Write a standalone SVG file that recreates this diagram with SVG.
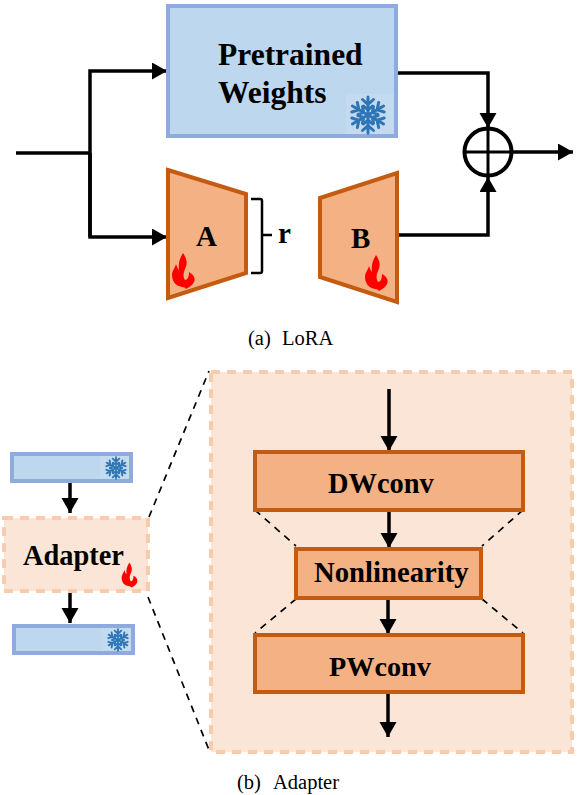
<svg xmlns="http://www.w3.org/2000/svg" width="577" height="795" viewBox="0 0 577 795">
<style>
text{font-family:"Liberation Serif","Times New Roman",serif;fill:#000}
.b{font-weight:bold}
.blue{fill:#bdd7ee;stroke:#8faadc;stroke-width:4}
.halo{fill:#c4daef}
.or{fill:#f4b183;stroke:#c55a11;stroke-width:4}
.pale{fill:#fbe5d6;stroke:#f8cbad;stroke-width:4;stroke-dasharray:9 7}
.ln{fill:none;stroke:#000;stroke-width:3.5}
.ds{fill:none;stroke:#000;stroke-width:1.7;stroke-dasharray:7 6}
.cap{font-size:20.5px}
.fl{fill:#f00}
</style>
<defs>
<marker id="ah" markerUnits="userSpaceOnUse" markerWidth="16" markerHeight="18" refX="15" refY="8.500" orient="auto"><path d="M0 0L15 8.500L0 17Z" fill="#000"/></marker>
<g id="snow" fill="none" stroke="#2e75b6" stroke-linecap="round">
<g id="arm"><path d="M0 0V-18M-5.500-15.500L0-10.500L5.500-15.500M-4.500-9L0-5L4.500-9" stroke-width="3"/></g>
<use href="#arm" transform="rotate(60)"/><use href="#arm" transform="rotate(120)"/><use href="#arm" transform="rotate(180)"/><use href="#arm" transform="rotate(240)"/><use href="#arm" transform="rotate(300)"/>
</g>
<path id="fire" class="fl" d="M-1-18C4-11 3-6 1-2C-1 2-1 6 1 9C4 9 5 5 5 1C9 3 12 7 10 11C8 15 5 16 2 18C0 15-3 17-5 15C-9 14-12 9-12 4C-12 0-9-3-8-7C-7-4-6-2-5-1C-6-8-4-13-1-18Z"/>
</defs>
<g id="connectors">
<path class="ln" d="M16 153H90"/>
<path class="ln" d="M90 237V71H167" marker-end="url(#ah)"/>
<path class="ln" d="M90 153V237H167" marker-end="url(#ah)"/>
<path class="ln" d="M397 73H488V128" marker-end="url(#ah)"/>
<path class="ln" d="M397 235H488V177" marker-end="url(#ah)"/>
<path class="ln" d="M512 152H573" marker-end="url(#ah)"/>
<path d="M251 199H260Q262 199 262 201V271Q262 273 260 273H251M262 235H272" fill="none" stroke="#000" stroke-width="2.500"/>
<path class="ln" d="M70 481V513" marker-end="url(#ah)"/>
<path class="ln" d="M70 590V623" marker-end="url(#ah)"/>
<path class="ds" d="M149 517L209 371"/>
<path class="ds" d="M148 597L209 750"/>
</g>
<g id="n-weights">
<rect class="blue" x="168" y="6" width="228" height="130"/>
<rect class="halo" x="346" y="94" width="48" height="40"/>
<use href="#snow" transform="translate(368 115)"/>
<text class="b" x="218" y="65" font-size="31.500">Pretrained</text>
<text class="b" x="218" y="103" font-size="31.500">Weights</text>
</g>
<g id="n-a">
<path class="or" d="M168 170L246 194V273L168 298Z"/>
<use href="#fire" transform="translate(184 271)"/>
<text class="b" x="196" y="246" font-size="29">A</text>
</g>
<text id="t-r" class="b" x="278" y="243" font-size="29">r</text>
<g id="n-b">
<path class="or" d="M320 198L397 173V302L320 277Z"/>
<use href="#fire" transform="translate(377 273)"/>
<text class="b" x="351" y="248" font-size="29">B</text>
</g>
<g id="n-plus">
<circle cx="488" cy="152" r="23.500" fill="none" stroke="#000" stroke-width="4"/>
<path d="M488 128V176M464 152H512" stroke="#000" stroke-width="3"/>
</g>
<text id="cap-a" class="cap" y="345"><tspan x="248">(a)</tspan><tspan x="282">LoRA</tspan></text>
<g id="n-top">
<rect class="blue" x="12" y="454" width="119" height="27"/>
<rect class="halo" x="100" y="456" width="29" height="23"/>
<use href="#snow" transform="translate(116 468) scale(.6)"/>
</g>
<g id="n-adapter">
<rect class="pale" x="4" y="518" width="144" height="73"/>
<text class="b" x="23" y="565" font-size="28.400">Adapter</text>
<use href="#fire" transform="translate(130 575) scale(.7)"/>
</g>
<g id="n-bot">
<rect class="blue" x="14" y="626" width="119" height="27"/>
<rect class="halo" x="101" y="628" width="30" height="23"/>
<use href="#snow" transform="translate(118 640) scale(.6)"/>
</g>
<g id="n-detail">
<rect class="pale" x="211" y="372" width="361" height="380"/>
</g>
<g id="connectors-detail">
<path class="ln" d="M389 389V451" marker-end="url(#ah)"/>
<path class="ln" d="M389 510V548" marker-end="url(#ah)"/>
<path class="ln" d="M388 598V634" marker-end="url(#ah)"/>
<path class="ln" d="M388 692V737" marker-end="url(#ah)"/>
<path class="ds" d="M255 510L296 546M523 510L482 546M296 599L255 633M482 599L523 633"/>
</g>
<g id="n-dw">
<rect class="or" x="255" y="452" width="268" height="58"/>
<text class="b" x="328" y="493" font-size="28.400">DWconv</text>
</g>
<g id="n-non">
<rect class="or" x="296" y="549" width="185" height="49"/>
<text class="b" x="314" y="582" font-size="28.700">Nonlinearity</text>
</g>
<g id="n-pw">
<rect class="or" x="255" y="635" width="268" height="57"/>
<text class="b" x="329" y="676" font-size="28.200">PWconv</text>
</g>
<text id="cap-b" class="cap" y="789"><tspan x="237">(b)</tspan><tspan x="273">Adapter</tspan></text>
</svg>
